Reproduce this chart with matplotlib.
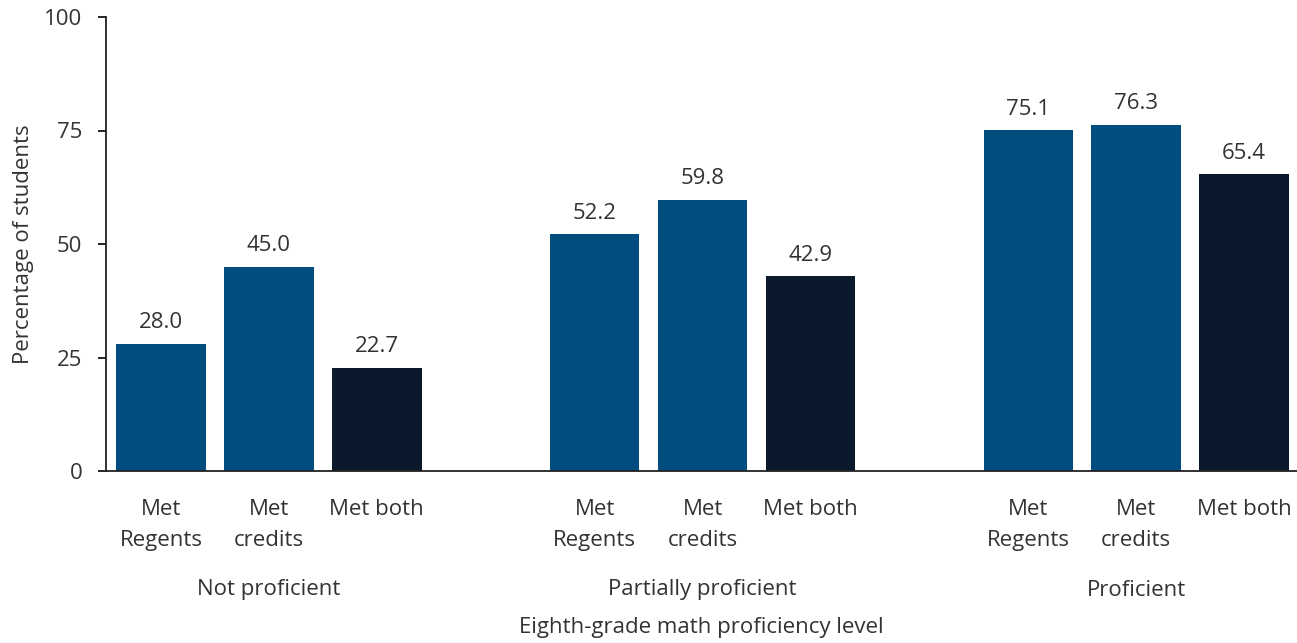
import matplotlib
matplotlib.use("Agg")
import matplotlib.pyplot as plt
from matplotlib.transforms import blended_transform_factory

plt.rcParams["font.family"] = ["Open Sans", "DejaVu Sans"]

groups = ["Not proficient", "Partially proficient", "Proficient"]
bar_labels = ["Met\nRegents", "Met\ncredits", "Met both"]
values = [
    [28.0, 45.0, 22.7],
    [52.2, 59.8, 42.9],
    [75.1, 76.3, 65.4],
]
bar_colors = ["#024d80", "#024d80", "#0a1a2c"]
text_color = "#333333"
fs = 16

fig = plt.figure(figsize=(12.97, 6.43), dpi=100)
ax = fig.add_axes([106 / 1297, 1 - 471 / 643, 1 - 106 / 1297, (471 - 17) / 643])

positions = []
labels = []
for g, vals in enumerate(values):
    for i, v in enumerate(vals):
        x = 4.02 * g + i
        ax.bar(x, v, width=0.83, color=bar_colors[i])
        ax.text(x, v + 2.3, f"{v:.1f}", ha="center", va="bottom",
                fontsize=fs, color=text_color)
        positions.append(x)
        labels.append(bar_labels[i])

ax.set_xlim(-0.51, 4.02 * 2 + 2.49)
ax.set_ylim(0, 100)
ax.set_yticks([0, 25, 50, 75, 100])
ax.set_xticks(positions)
ax.set_xticklabels(labels, fontsize=fs, color=text_color, linespacing=1.65)
ax.tick_params(axis="x", length=0, pad=20)
ax.tick_params(axis="y", length=6, width=1.2, labelsize=fs, labelcolor=text_color, pad=11)
for side in ["top", "right"]:
    ax.spines[side].set_visible(False)
for side in ["left", "bottom"]:
    ax.spines[side].set_linewidth(1.3)
    ax.spines[side].set_color("#222222")

trans = blended_transform_factory(ax.transData, fig.transFigure)
for g, name in enumerate(groups):
    ax.text(4.02 * g + 1, 1 - 590 / 643, name, transform=trans, ha="center",
            va="center", fontsize=fs, color=text_color)

fig.text((106 + 1297) / 2 / 1297, 1 - 628 / 643, "Eighth-grade math proficiency level",
         ha="center", va="center", fontsize=fs, color=text_color)
ax.set_ylabel("Percentage of students", fontsize=fs, color=text_color, labelpad=7)

fig.savefig("out.png", dpi=100)
